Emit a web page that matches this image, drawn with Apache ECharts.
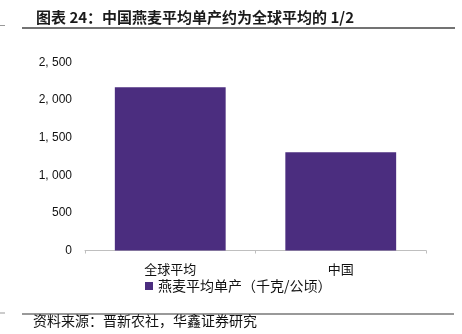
<!DOCTYPE html>
<html>
<head>
<meta charset="utf-8">
<script src="https://cdn.jsdelivr.net/npm/echarts@6/dist/echarts.min.js"></script>
<style>
  html, body { margin: 0; padding: 0; background: #fff; }
  #chart { width: 462px; height: 334px; }
</style>
</head>
<body>
<div id="chart"></div>
<script>
// Oat yield: world average vs. China (kg per hectare)
const categories = ['全球平均', '中国'];
const yieldValues = [2170, 1305];
const seriesName = '燕麦平均单产（千克/公顷）';
const titleText = '图表 24：中国燕麦平均单产约为全球平均的 1/2';
const sourceText = '资料来源：晋新农社，华鑫证券研究';

const cjk = '"Noto Sans CJK SC", "Liberation Sans", sans-serif';

const chart = echarts.init(document.getElementById('chart'));
chart.setOption({
  animation: false,
  backgroundColor: '#fff',
  title: {
    text: titleText,
    left: 31,
    top: 5,
    textStyle: { fontFamily: cjk, fontSize: 15, fontWeight: 'bold', color: '#1a1a1a' }
  },
  grid: { left: 85, right: 36, top: 62.5, bottom: 83.5 },
  legend: {
    left: 140,
    top: 274,
    itemWidth: 8,
    itemHeight: 8,
    icon: 'rect',
    textStyle: { fontFamily: cjk, fontSize: 14, color: '#111' },
    data: [seriesName]
  },
  xAxis: {
    type: 'category',
    data: categories,
    axisLine: { lineStyle: { color: '#bfbfbf', width: 1 } },
    axisTick: { show: true, length: 3, lineStyle: { color: '#bfbfbf' } },
    axisLabel: { margin: 12, fontFamily: cjk, fontSize: 13, color: '#111' }
  },
  yAxis: {
    type: 'value',
    min: 0,
    max: 2500,
    interval: 500,
    axisLine: { show: false },
    axisTick: { show: false },
    splitLine: { show: false },
    axisLabel: {
      margin: 13,
      fontFamily: '"Liberation Sans", Arial, sans-serif',
      fontSize: 12,
      color: '#111',
      formatter: v => v.toLocaleString('en-US').replace(',', ', ')
    }
  },
  series: [{
    name: seriesName,
    type: 'bar',
    data: yieldValues,
    barWidth: '65%',
    itemStyle: { color: '#4b2d7f' }
  }],
  graphic: [
    { type: 'line', shape: { x1: 0, y1: 25.5, x2: 5, y2: 25.5 }, style: { stroke: '#999', lineWidth: 1 } },
    { type: 'line', shape: { x1: 22, y1: 28, x2: 455, y2: 28 }, style: { stroke: '#444', lineWidth: 1.5 } },
    { type: 'line', shape: { x1: 0, y1: 313, x2: 5, y2: 313 }, style: { stroke: '#999', lineWidth: 1 } },
    { type: 'line', shape: { x1: 22, y1: 314, x2: 454, y2: 314 }, style: { stroke: '#999', lineWidth: 2 } },
    {
      type: 'text', left: 33, top: 314,
      style: { text: sourceText, font: '14px ' + cjk, fill: '#111' }
    }
  ]
});
</script>
</body>
</html>
